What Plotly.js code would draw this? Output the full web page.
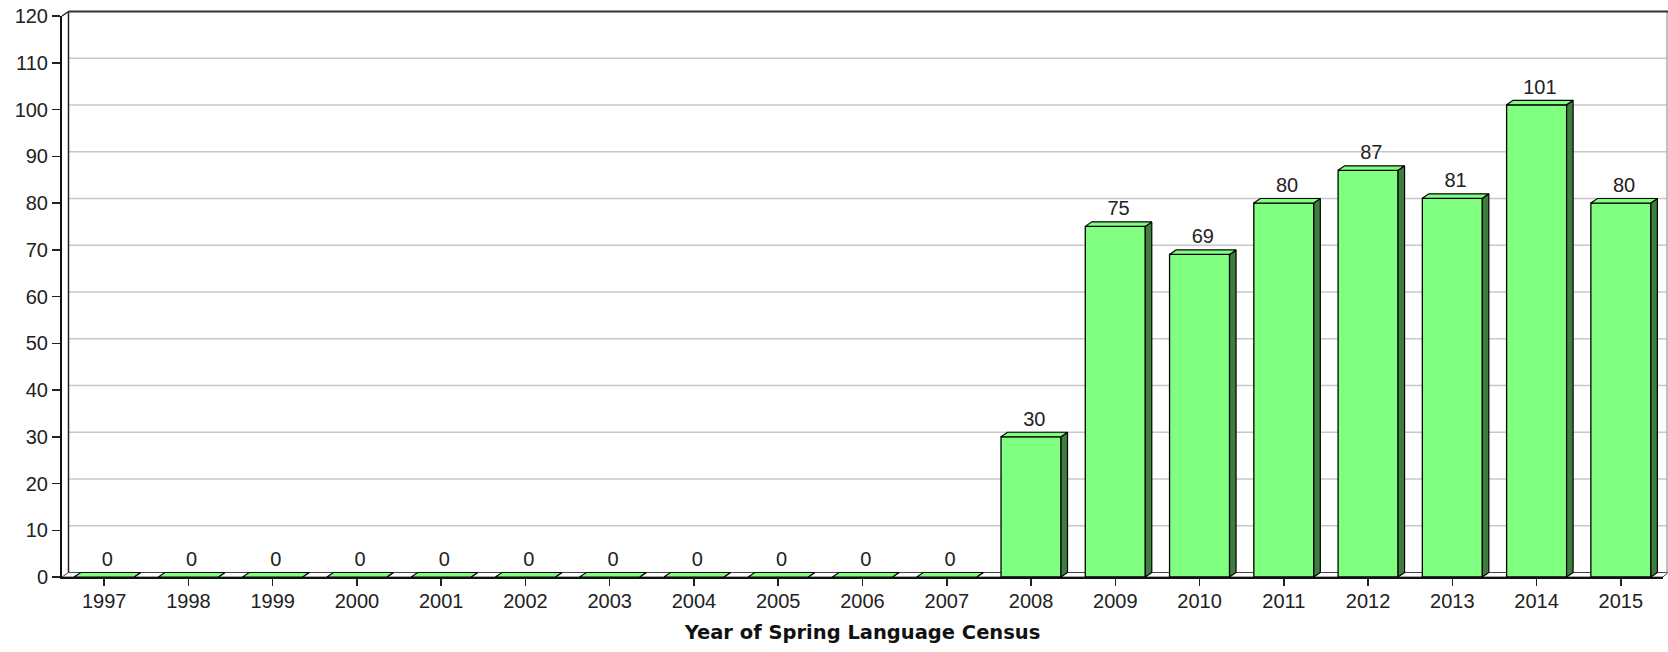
<!DOCTYPE html>
<html>
<head>
<meta charset="utf-8">
<script src="https://cdn.plot.ly/plotly-3.0.1.min.js"></script>
<style>html,body{margin:0;padding:0;background:#fff;}#chart{width:1668px;height:652px;}</style>
</head>
<body>
<div id="chart"></div>
<script>
// ---- data ----
const years = ["1997","1998","1999","2000","2001","2002","2003","2004","2005","2006","2007","2008","2009","2010","2011","2012","2013","2014","2015"];
const counts = [0,0,0,0,0,0,0,0,0,0,0,30,75,69,80,87,81,101,80];
const yTicks = [0,10,20,30,40,50,60,70,80,90,100,110,120];
const xTitle = "Year of Spring Language Census";

// ---- geometry (pixels) ----
const FW = 1668, FH = 652;
const L = 62, R = 1663, T = 15.5, B = 577;
const PW = R - L, PH = B - T;
const DX = 6.5, DY = 4.5;           // 3D depth offset in px
const YMAX = 120;
const barW = 0.712;                  // in category units
const pxPerCat = PW / years.length;
const ddx = DX / pxPerCat;           // depth in x data units
const ddy = DY / (PH / YMAX);        // depth in y data units
const labelLift = 1.5 / (PH / YMAX);

const idx = years.map((_, i) => i);
const px = p => (p - L) / PW;
const py = p => (B - p) / PH;

// faces
const topX = [], topY = [], sideX = [], sideY = [];
counts.forEach((v, i) => {
  const x0 = i - barW / 2, x1 = i + barW / 2;
  topX.push(x0, x1, x1 + ddx, x0 + ddx, x0, null);
  topY.push(v, v, v + ddy, v + ddy, v, null);
  sideX.push(x1, x1 + ddx, x1 + ddx, x1, x1, null);
  sideY.push(0, ddy, v + ddy, v, 0, null);
});

const light = "#80FF80", dark = "#3E7D3E";
const tickFont = {family: "Liberation Sans, Arial, sans-serif", size: 20, color: "#222"};

const traces = [
  {type: "bar", x: idx, y: counts, width: barW,
   marker: {color: light, line: {color: "#000", width: 1.3}}, hoverinfo: "skip"},
  {type: "scatter", mode: "lines", x: sideX, y: sideY, fill: "toself", fillcolor: dark,
   line: {color: "#000", width: 1.2}, hoverinfo: "skip"},
  {type: "scatter", mode: "lines", x: topX, y: topY, fill: "toself", fillcolor: light,
   line: {color: "#000", width: 1.2}, hoverinfo: "skip"},
  {type: "scatter", mode: "text", x: idx.map(i => i + ddx / 2), y: counts.map(v => v + ddy + labelLift),
   text: counts.map(String), textposition: "top center", textfont: tickFont,
   cliponaxis: false, hoverinfo: "skip"}
];

const shapes = [];
// floor
shapes.push({type: "path", xref: "paper", yref: "paper", layer: "below",
  path: `M ${px(L)} ${py(B)} L ${px(L+DX)} ${py(B-DY)} L ${px(FW)} ${py(B-DY)} L ${px(R)} ${py(B)} Z`,
  fillcolor: "#fff", line: {color: "#444", width: 1}});
// gridlines on back wall
yTicks.filter(v => v > 0 && v < YMAX).forEach(v => {
  const yy = B - v * PH / YMAX - DY;
  shapes.push({type: "line", xref: "paper", yref: "paper", layer: "below",
    x0: px(L + DX), x1: px(FW - 1), y0: py(yy), y1: py(yy),
    line: {color: "#c8c8c8", width: 1.6}});
});
// back wall top
shapes.push({type: "line", xref: "paper", yref: "paper", x0: px(L + DX), x1: px(FW), y0: py(T - DY), y1: py(T - DY),
  line: {color: "#333", width: 2}});
// back wall left
shapes.push({type: "line", xref: "paper", yref: "paper", layer: "below", x0: px(L + DX), x1: px(L + DX), y0: py(T - DY), y1: py(B - DY),
  line: {color: "#222", width: 1.5}});
// top-left diagonal
shapes.push({type: "line", xref: "paper", yref: "paper", x0: px(L), x1: px(L + DX), y0: py(T), y1: py(T - DY),
  line: {color: "#222", width: 1.5}});
// right wall edge
shapes.push({type: "line", xref: "paper", yref: "paper", layer: "below", x0: px(FW - 1), x1: px(FW - 1), y0: py(T - DY), y1: py(B - DY),
  line: {color: "#aaa", width: 1.5}});

const layout = {
  width: FW, height: FH,
  margin: {l: L, r: FW - R, t: T, b: FH - B, pad: 0},
  paper_bgcolor: "#fff", plot_bgcolor: "rgba(0,0,0,0)",
  showlegend: false, bargap: 0,
  xaxis: {range: [-0.5, years.length - 0.5], tickvals: idx, ticktext: years, tickfont: tickFont,
    ticks: "outside", ticklen: 7, tickwidth: 1.5, tickcolor: "#222", ticklabelstandoff: -2,
    showline: true, linecolor: "#111", linewidth: 2, showgrid: false, zeroline: false,
    automargin: false, fixedrange: true,
    title: {text: xTitle, font: {family: "DejaVu Sans, sans-serif", size: 19.5, color: "#111", weight: "bold"}, standoff: 14}},
  yaxis: {range: [0, YMAX], tickvals: yTicks, tickfont: {family: "Liberation Sans, Arial, sans-serif", size: 20, color: "#222"},
    ticks: "outside", ticklen: 8, tickwidth: 1.5, tickcolor: "#222",
    showline: true, linecolor: "#111", linewidth: 2, showgrid: false, zeroline: false,
    automargin: false, fixedrange: true},
  shapes: shapes
};

Plotly.newPlot("chart", traces, layout, {displayModeBar: false, staticPlot: true});
</script>
</body>
</html>
